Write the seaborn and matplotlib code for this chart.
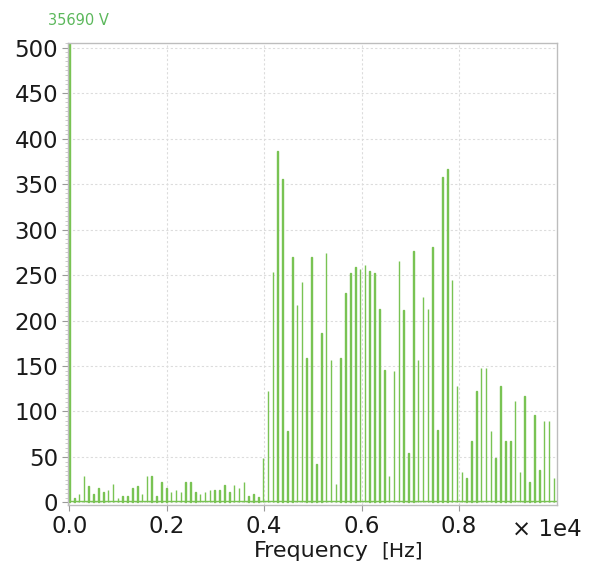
import matplotlib
matplotlib.use("Agg")
import matplotlib.pyplot as plt
from matplotlib.ticker import MultipleLocator
import numpy as np
import pandas as pd
import seaborn as sns

# spectrum: one line per harmonic, harmonic n sits at n * harmonic_step Hz
harmonic_step = 99.5
dc_amplitude = 35690
low_band = [5, 9, 29, 18, 9, 16, 11, 14, 20, 5, 7, 7, 16, 18, 9, 29, 29, 7, 22, 16,
            11, 14, 11, 23, 23, 11, 9, 11, 14, 14, 14, 19, 11, 19, 16, 22, 7, 9, 6]
mid_band = [49, 122, 253, 387, 356, 78, 270, 217, 242, 159, 270, 42, 186, 274, 157,
            20, 159, 230, 252, 259, 257, 261, 255, 252, 213, 146, 29, 144, 265, 212,
            54, 276, 157, 226, 213, 281, 80, 358, 367, 245]
high_band = [128, 34, 27, 67, 122, 148, 148, 78, 49, 128, 67, 67, 111, 34, 117, 23,
             96, 36, 89, 89, 27]
noise_floor = 2

x_ticks = [0, 2000, 4000, 6000, 8000]
x_tick_labels = ["0.0", "0.2", "0.4", "0.6", "0.8"]
y_ticks = list(range(0, 501, 50))

amps = [dc_amplitude] + low_band + mid_band + high_band
df = pd.DataFrame({"freq": harmonic_step * np.arange(len(amps)), "amp": amps})

green = "#79c353"

sns.set_theme(style="white")
plt.rcParams["font.family"] = ["DejaVu Sans"]

fig = plt.figure(figsize=(5.96, 5.76), dpi=100)
ax = fig.add_axes([0.114, 0.123, 0.821, 0.802])

sns.barplot(data=df, x="freq", y="amp", native_scale=True, width=0.12,
            color=green, saturation=1, errorbar=None, linewidth=1.0,
            edgecolor=green, ax=ax)
ax.axhline(noise_floor, color=green, linewidth=1.0, zorder=1)

ax.set_xlim(-30, 10020)
ax.set_ylim(-3, 505)
ax.set_xticks(x_ticks)
ax.set_xticklabels(x_tick_labels)
ax.set_yticks(y_ticks)
ax.yaxis.set_minor_locator(MultipleLocator(5))

ax.set_axisbelow(True)
ax.grid(True, which="major", color="#dcdcdc", linestyle=(0, (2, 2)), linewidth=0.8)

for sp in ax.spines.values():
    sp.set_color("#bdbdbd")
    sp.set_linewidth(1.0)

ax.tick_params(axis="both", which="major", bottom=True, left=True, direction="out",
               length=4, width=0.8, color="#9a9a9a", labelsize=16.5,
               labelcolor="#1a1a1a", pad=3)
ax.tick_params(axis="y", which="minor", left=True, direction="out", length=2,
               width=0.6, color="#c4c4c4")

ax.set_xlabel("")
ax.set_ylabel("")
fig.text(0.522, 0.043, "Frequency", ha="center", va="center", fontsize=16,
         color="#1a1a1a")
fig.text(0.675, 0.043, "[Hz]", ha="center", va="center", fontsize=14.5,
         color="#1a1a1a")
fig.text(0.918, 0.081, "\u00d7 1e4", ha="center", va="center", fontsize=16.5,
         color="#1a1a1a")
fig.text(0.132, 0.965, "35690 V", ha="center", va="center", fontsize=10.5,
         color="#5cb85c")

fig.savefig("out.png", dpi=100, facecolor="white")
